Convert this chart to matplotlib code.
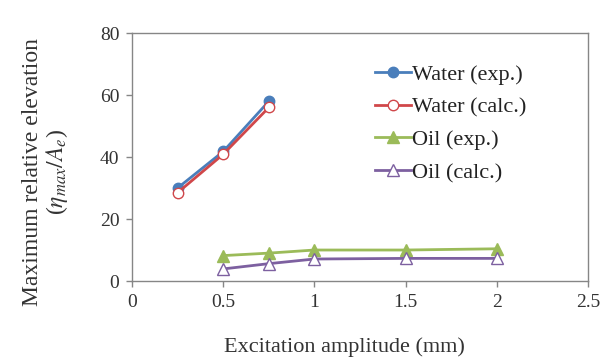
import matplotlib
matplotlib.use("Agg")
import matplotlib.pyplot as plt

plt.rcParams['font.family'] = ['Liberation Serif', 'DejaVu Serif']
plt.rcParams['mathtext.fontset'] = 'stix'

# data
water_x = [0.25, 0.5, 0.75]
water_exp = [30.0, 41.8, 58.0]
water_calc = [28.5, 40.9, 56.0]

oil_x = [0.5, 0.75, 1.0, 1.5, 2.0]
oil_exp = [8.2, 9.0, 10.0, 10.0, 10.4]
oil_calc = [3.9, 5.6, 7.1, 7.3, 7.3]

x_ticks = [0, 0.5, 1, 1.5, 2, 2.5]
x_ticklabels = ["0", "0.5", "1", "1.5", "2", "2.5"]
y_ticks = [0, 20, 40, 60, 80]

fig = plt.figure(figsize=(6.09, 3.64), dpi=100)
ax = fig.add_axes([0.2167, 0.228, 0.749, 0.681])

ax.plot(water_x, water_exp, color="#4a7ebb", lw=2, marker="o", ms=7.5,
        mfc="#4a7ebb", mec="#4a7ebb", label="Water (exp.)")
ax.plot(water_x, water_calc, color="#d0474a", lw=2, marker="o", ms=7.5,
        mfc="white", mec="#d0474a", label="Water (calc.)")
ax.plot(oil_x, oil_exp, color="#9bbb59", lw=2, marker="^", ms=8.5,
        mfc="#9bbb59", mec="#9bbb59", label="Oil (exp.)")
ax.plot(oil_x, oil_calc, color="#7d60a0", lw=2, marker="^", ms=8.5,
        mfc="white", mec="#7d60a0", label="Oil (calc.)")

ax.set_xlim(0, 2.5)
ax.set_ylim(0, 80)
ax.set_xticks(x_ticks)
ax.set_xticklabels(x_ticklabels)
ax.set_yticks(y_ticks)
ax.tick_params(direction="out", length=4, width=1, color="#868686",
               labelsize=14, labelcolor="#333333", pad=5)
for s in ax.spines.values():
    s.set_color("#868686")
    s.set_linewidth(1)

ax.set_xlabel("Excitation amplitude (mm)", fontsize=16, color="#333333")
ax.xaxis.set_label_coords(0.465, -0.226)
ax.set_ylabel("Maximum relative elevation\n($\\eta_{max}/A_e$)", fontsize=17,
              color="#333333", linespacing=1.05)
ax.yaxis.set_label_coords(-0.136, 0.44)

leg = ax.legend(loc="upper left", bbox_to_anchor=(0.533, 0.875), frameon=False,
                fontsize=16, handlelength=1.6, handletextpad=0.05,
                labelspacing=0.55, borderpad=0, borderaxespad=0)
for t in leg.get_texts():
    t.set_color("#222222")

fig.savefig("out.png", dpi=100)
